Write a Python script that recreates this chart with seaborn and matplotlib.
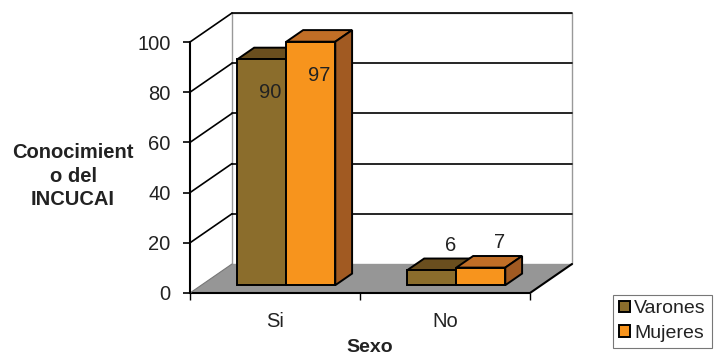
import matplotlib
matplotlib.use("Agg")
import matplotlib.pyplot as plt
import seaborn as sns
import pandas as pd
from matplotlib.patches import Polygon

# ---- data ----
categorias = ["Si", "No"]
varones = [90, 6]
mujeres = [97, 7]
series = ["Varones", "Mujeres"]
yticks = [0, 20, 40, 60, 80, 100]

df = pd.DataFrame({
    "Sexo": categorias * 2,
    "valor": varones + mujeres,
    "Grupo": [series[0]] * 2 + [series[1]] * 2,
})

sns.set_style("white")
plt.rcParams["font.family"] = ["Liberation Sans", "DejaVu Sans"]

front_col = {"Varones": "#8B6D2C", "Mujeres": "#F7941D"}
top_col = {"Varones": "#6A4E1E", "Mujeres": "#C16E26"}
side_col = {"Varones": "#5E4419", "Mujeres": "#A15A22"}

W, H = 714, 356
fig = plt.figure(figsize=(W / 100, H / 100), dpi=100)
ax = fig.add_axes([190 / W, (H - 293) / H, 340 / W, 251 / H])

sns.barplot(data=df, x="Sexo", y="valor", hue="Grupo", order=categorias,
            hue_order=series, palette=front_col, width=0.576,
            edgecolor="black", linewidth=1.4, saturation=1, ax=ax, zorder=5)

ax.set_xlim(-0.5, 1.5)
ax.set_ylim(0, 100)

# depth vector (full depth) in data units
DX, DY = 0.247, 11.55
f0, f1 = 0.27, 0.67  # bar front / back depth fraction

# back wall and floor
bx0, bx1 = -0.5 + DX, 1.5 + DX
wall = Polygon([(bx0, DY), (bx1, DY), (bx1, 100 + DY), (bx0, 100 + DY)],
               closed=True, facecolor="white", edgecolor="#999999", lw=1.0,
               clip_on=False, zorder=0)
ax.add_patch(wall)
for t in yticks[1:]:
    ax.plot([bx0, bx1], [t + DY, t + DY], color="black", lw=1.2,
            clip_on=False, zorder=1)
    ax.plot([-0.5, bx0], [t, t + DY], color="black", lw=1.2,
            clip_on=False, zorder=1)
floor = Polygon([(-0.5, 0), (1.5, 0), (bx1, DY), (bx0, DY)], closed=True,
                facecolor="#969696", edgecolor="none", clip_on=False, zorder=2)
ax.add_patch(floor)
ax.plot([-0.5, 1.5, bx1], [0, 0, DY], color="black", lw=1.5,
        clip_on=False, zorder=3)
ax.plot([-0.5, bx0], [0, DY], color="#777777", lw=0.8, clip_on=False, zorder=3)

# shift bars into depth and add top / side faces
for cont, name in zip(ax.containers, series):
    for bar, val in zip(cont.patches, cont.datavalues):
        x0 = bar.get_x() + f0 * DX
        y0 = f0 * DY
        w = bar.get_width()
        h = bar.get_height()
        bar.set_x(x0)
        bar.set_y(y0)
        bar.set_clip_on(False)
        ddx, ddy = (f1 - f0) * DX, (f1 - f0) * DY
        top = Polygon([(x0, y0 + h), (x0 + w, y0 + h), (x0 + w + ddx, y0 + h + ddy),
                       (x0 + ddx, y0 + h + ddy)], closed=True,
                      facecolor=top_col[name], edgecolor="black", lw=1.4,
                      clip_on=False, zorder=4)
        side = Polygon([(x0 + w, y0), (x0 + w + ddx, y0 + ddy),
                        (x0 + w + ddx, y0 + h + ddy), (x0 + w, y0 + h)], closed=True,
                       facecolor=side_col[name], edgecolor="black", lw=1.4,
                       clip_on=False, zorder=4)
        ax.add_patch(top)
        ax.add_patch(side)
        cx = x0 + w / 2
        if val > 50:
            ax.text(cx + 0.047, y0 + h - 13.3, f"{val:g}", ha="center", va="center",
                    fontsize=14.5, color="#222222", zorder=8)
        else:
            ax.text(cx + 0.112, y0 + h + 10, f"{val:g}", ha="center", va="center",
                    fontsize=14.5, color="#222222", zorder=8)

# axes styling
for s in ["top", "right", "bottom"]:
    ax.spines[s].set_visible(False)
ax.spines["left"].set_color("black")
ax.spines["left"].set_linewidth(1.5)
ax.spines["left"].set_zorder(6)
ax.set_yticks(yticks)
ax.set_yticklabels([str(t) for t in yticks], fontsize=14.5, color="#222222")
ax.tick_params(axis="y", direction="out", length=5, width=1.2, pad=9, color="black", left=True)
ax.set_xticks([0, 1])
ax.set_xticklabels(categorias, fontsize=14.5, color="#222222")
ax.set_xticks([-0.5, 0.5, 1.5], minor=True)
ax.tick_params(axis="x", which="major", length=0, pad=14)
ax.tick_params(axis="x", which="minor", direction="out", length=5, width=1.0,
               color="black", bottom=True)

ax.set_xlabel("Sexo", fontsize=14, fontweight="bold", color="#222222")
ax.xaxis.set_label_coords(0.529, -0.182)
ax.set_ylabel("Conocimient\no del\nINCUCAI", rotation=0, fontsize=14.5,
              fontweight="bold", color="#222222", ha="center", va="center",
              linespacing=1.3)
ax.yaxis.set_label_coords(-0.344, 0.466)

handles, labels = ax.get_legend_handles_labels()
if ax.get_legend() is not None:
    ax.get_legend().remove()
leg = fig.legend(handles, labels, loc="lower left",
                 bbox_to_anchor=(613 / W, (H - 348) / H), frameon=True,
                 fancybox=False, edgecolor="#555555", fontsize=14,
                 handlelength=0.55, handleheight=0.55, handletextpad=0.25,
                 borderpad=0.3, labelspacing=0.4, borderaxespad=0)
leg.get_frame().set_linewidth(0.8)
for t in leg.get_texts():
    t.set_color("#222222")

fig.savefig("out.png", dpi=100)
